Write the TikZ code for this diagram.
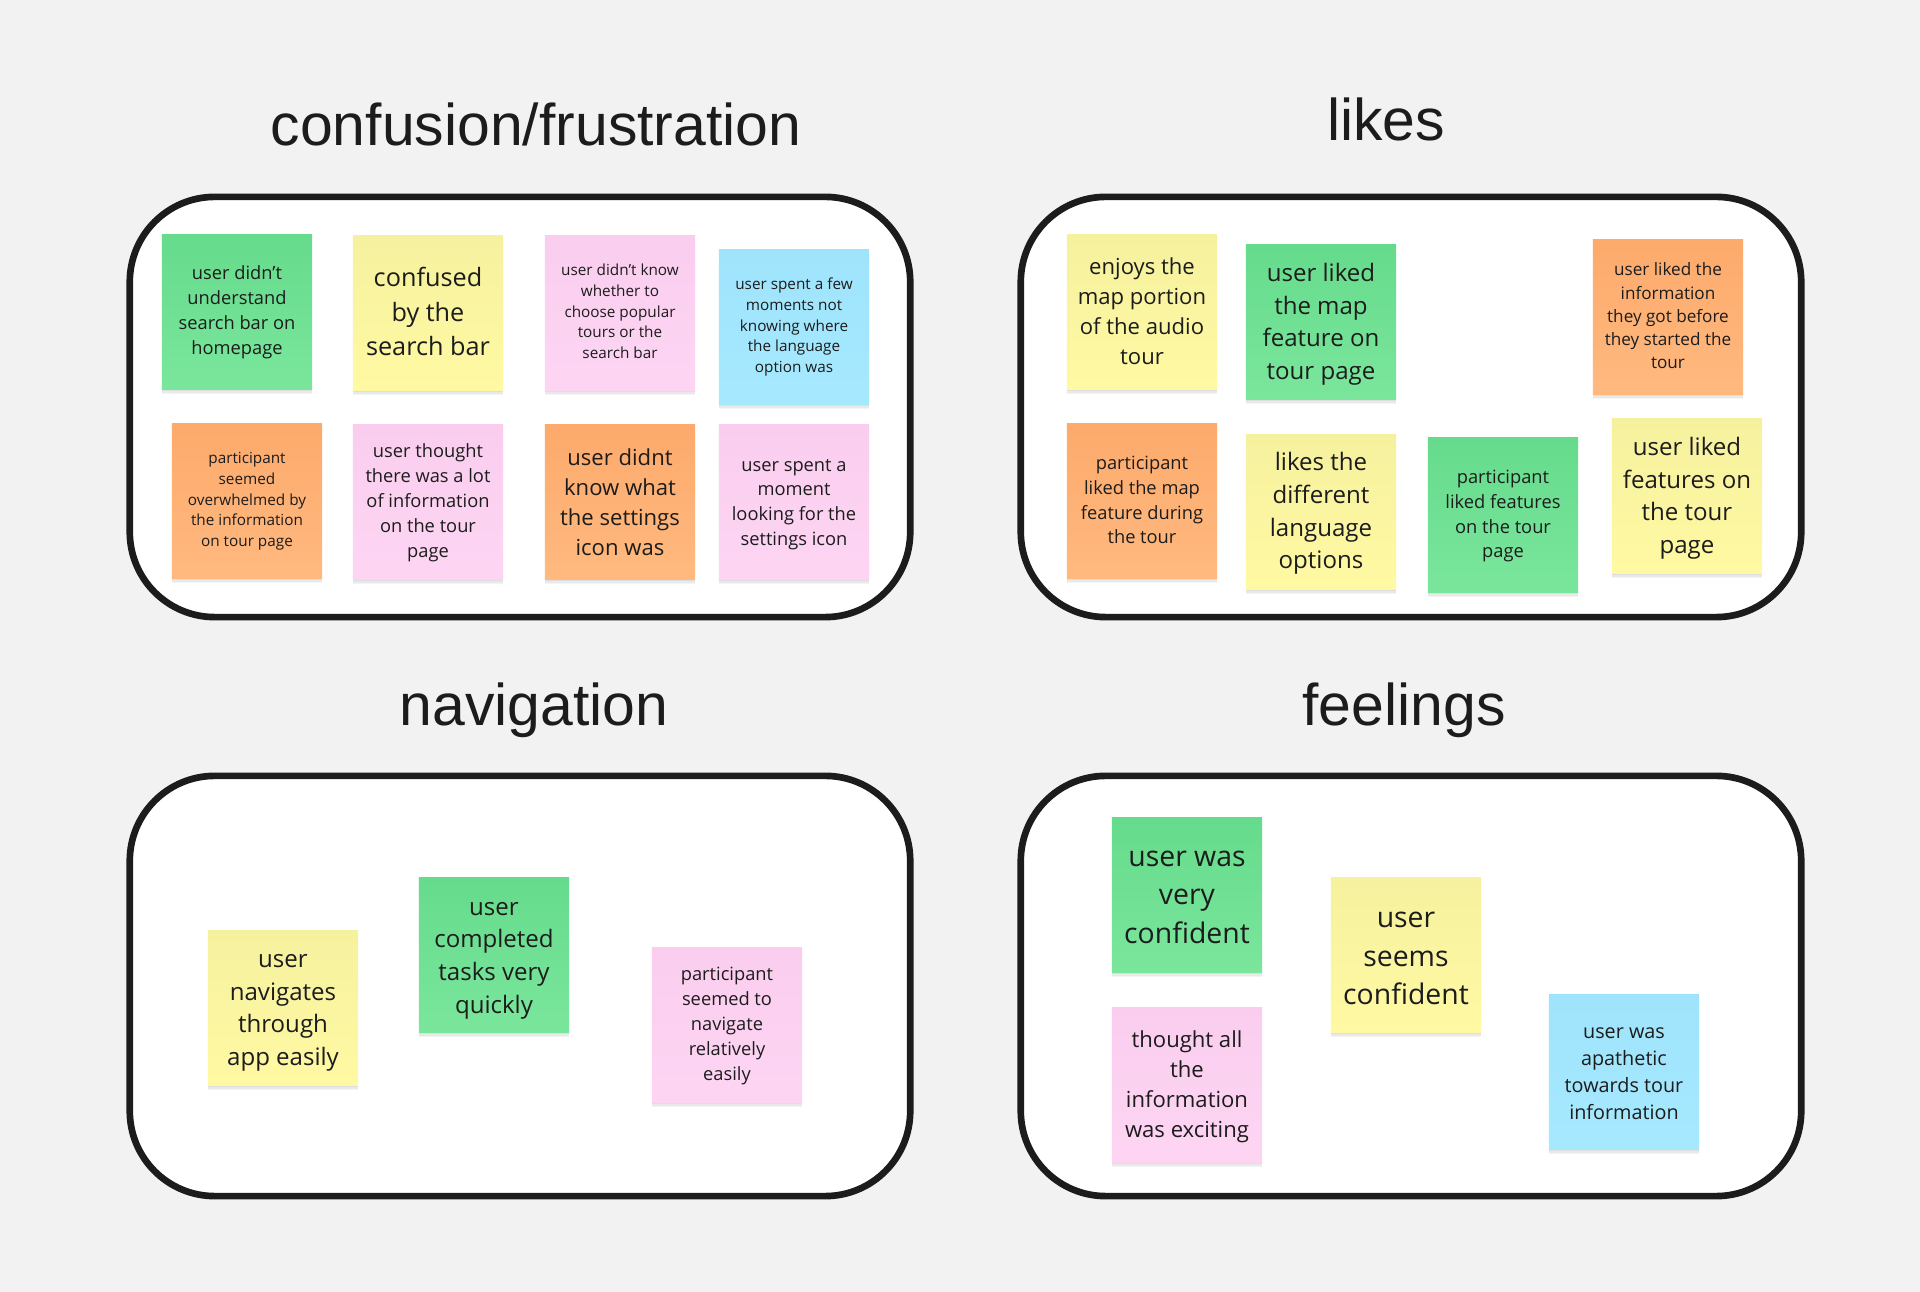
\documentclass[tikz,border=0pt]{standalone}
\usepackage{fontspec}
\setmainfont{Open Sans}
\newfontfamily\titlefont{Liberation Sans}
\usetikzlibrary{shadows}
\definecolor{pagebg}{HTML}{F2F2F2}
\definecolor{ink}{HTML}{1C1C1C}
\definecolor{greentop}{HTML}{66DB8C}
\definecolor{greenbot}{HTML}{7AE69C}
\definecolor{yellowtop}{HTML}{F6F19E}
\definecolor{yellowbot}{HTML}{FFF9A3}
\definecolor{pinktop}{HTML}{FACDEE}
\definecolor{pinkbot}{HTML}{FDD5F3}
\definecolor{bluetop}{HTML}{9FE4FC}
\definecolor{bluebot}{HTML}{A6E9FF}
\definecolor{orangetop}{HTML}{FDAA6C}
\definecolor{orangebot}{HTML}{FFB97F}
\newcommand{\nudge}[1]{\rule{0pt}{\dimexpr.7\baselineskip+#1\dimexpr.4pt\relax\relax}}
\tikzset{
  panel/.style={draw=ink,line width=1.9pt,fill=white,rounded corners=0.85cm,minimum width=7.8cm,minimum height=4.2cm},
  heading/.style={text=ink,font=\titlefont\fontsize{16.75}{20}\selectfont},
  softshadow/.style={drop shadow={shadow xshift=0pt,shadow yshift=#1,opacity=.045,fill=black}},
  note/.style={minimum width=1.5cm,minimum height=1.54cm,inner sep=0pt,align=center,text=ink,
    execute at end node=\strut,
    softshadow=-1.5pt,softshadow=-1pt,softshadow=-0.5pt},
  green/.style={note,top color=greentop,bottom color=greenbot},
  yellow/.style={note,top color=yellowtop,bottom color=yellowbot},
  pink/.style={note,top color=pinktop,bottom color=pinkbot},
  blue/.style={note,top color=bluetop,bottom color=bluebot},
  orange/.style={note,top color=orangetop,bottom color=orangebot},
  sizea/.style={font=\fontsize{4.35}{5.92}\selectfont},
  sizeb/.style={font=\fontsize{4.87}{6.62}\selectfont},
  sizec/.style={font=\fontsize{5.2}{7.07}\selectfont},
  sized/.style={font=\fontsize{5.63}{7.66}\selectfont},
  sizee/.style={font=\fontsize{6.28}{8.54}\selectfont},
  sizef/.style={font=\fontsize{6.84}{9.3}\selectfont},
  sizeg/.style={font=\fontsize{7.18}{9.76}\selectfont},
  sizeh/.style={font=\fontsize{8.07}{10.97}\selectfont}
}
\begin{document}
\begin{tikzpicture}[x=0.01cm,y=-0.01cm]
  \fill[pagebg] (0,0) rectangle (1920,1292);

  % the four frames
  \node[panel] (confusion) at (520,407) {};
  \node[panel] (likes) at (1411,407) {};
  \node[panel] (navigation) at (520,986) {};
  \node[panel] (feelings) at (1411,986) {};

  \node[heading] (confusionT) at (536,124) {confusion/frustration};
  \node[heading] (likesT) at (1386,119) {likes};
  \node[heading] (navigationT) at (534,710) {navigation};
  \node[heading] (feelingsT) at (1404,710) {feelings};

  % confusion/frustration
  \node[green,sizec] (c1) at (237,312) {\nudge{0}user didn't\\understand\\search bar on\\homepage};
  \node[yellow,sizeg] (c2) at (428,313) {\nudge{2}confused\\by the\\search bar};
  \node[pink,sizea] (c3) at (620,313) {\nudge{0}user didn't know\\whether to\\choose popular\\tours or the\\search bar};
  \node[blue,sizea] (c4) at (794,327) {\nudge{0}user spent a few\\moments not\\knowing where\\the language\\option was};
  \node[orange,sizea] (c5) at (247,501) {\nudge{0}participant\\seemed\\overwhelmed by\\the information\\on tour page};
  \node[pink,sizec] (c6) at (428,502) {\nudge{1}user thought\\there was a lot\\of information\\on the tour\\page};
  \node[orange,sizee] (c7) at (620,502) {\nudge{3}user didnt\\know what\\the settings\\icon was};
  \node[pink,sizec] (c8) at (794,502) {\nudge{2}user spent a\\moment\\looking for the\\settings icon};

  % likes
  \node[yellow,sizee] (l1) at (1142,312) {\nudge{2}enjoys the\\map portion\\of the audio\\tour};
  \node[green,sizef] (l2) at (1321,322) {\nudge{3}user liked\\the map\\feature on\\tour page};
  \node[orange,sizeb] (l3) at (1668,317) {\nudge{1}user liked the\\information\\they got before\\they started the\\tour};
  \node[orange,sizec] (l4) at (1142,501) {\nudge{1}participant\\liked the map\\feature during\\the tour};
  \node[yellow,sizef] (l5) at (1321,512) {\nudge{2}likes the\\different\\language\\options};
  \node[green,sizec] (l6) at (1503,515) {\nudge{1}participant\\liked features\\on the tour\\page};
  \node[yellow,sizef] (l7) at (1687,496) {\nudge{3}user liked\\features on\\the tour\\page};

  % navigation
  \node[yellow,sizef] (n1) at (283,1008) {\nudge{3}user\\navigates\\through\\app easily};
  \node[green,sizef] (n2) at (494,955) {\nudge{4}user\\completed\\tasks very\\quickly};
  \node[pink,sizec] (n3) at (727,1025) {\nudge{1}participant\\seemed to\\navigate\\relatively\\easily};

  % feelings
  \node[green,sizeh] (f1) at (1187,895) {\nudge{3}user was\\very\\confident};
  \node[yellow,sizeh] (f2) at (1406,955) {\nudge{5}user\\seems\\confident};
  \node[pink,sizee] (f3) at (1187,1085) {\nudge{2}thought all\\the\\information\\was exciting};
  \node[blue,sized] (f4) at (1624,1072) {\nudge{2}user was\\apathetic\\towards tour\\information};
\end{tikzpicture}
\end{document}
